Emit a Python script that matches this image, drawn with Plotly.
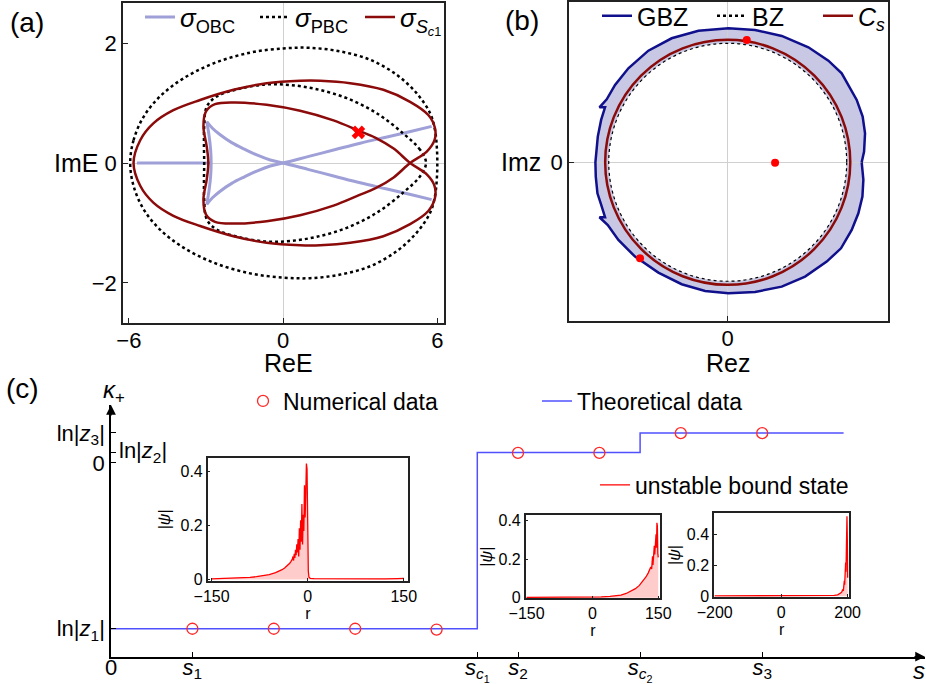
import plotly.graph_objects as go

W, H = 926, 684

# ---------------- Panel (a) data: spectra in complex E plane ----------------
OBC_RE = [-5.69, -2.80, None,
          -2.97, -2.88, -2.82, -2.80, -2.82, -2.88, -2.97, None,
          -2.97, -2.75, -2.45, -2.0, -1.5, -1.0, -0.5, 0.0, 1.0, 2.0, 3.0, 4.0, 5.0, 5.78, None,
          -2.97, -2.75, -2.45, -2.0, -1.5, -1.0, -0.5, 0.0, 1.0, 2.0, 3.0, 4.0, 5.0, 5.78]
OBC_IM = [0, 0, None,
          0.69, 0.45, 0.22, 0.0, -0.22, -0.45, -0.69, None,
          0.69, 0.58, 0.47, 0.34, 0.23, 0.13, 0.05, 0.0, -0.11, -0.22, -0.33, -0.43, -0.53, -0.61, None,
          -0.69, -0.58, -0.47, -0.34, -0.23, -0.13, -0.05, 0.0, 0.11, 0.22, 0.33, 0.43, 0.53, 0.61]

PBC_RE = [-5.95, -5.82, -5.43, -4.79, -3.88, -2.71, -1.28, 0.01, 1.05, 2.22, 3.39, 4.42, 5.20, 5.72, 5.91, 5.98, 6.00,
          5.98, 5.91, 5.72, 5.20, 4.42, 3.39, 2.22, 1.05, 0.01, -1.28, -2.71, -3.88, -4.79, -5.43, -5.82, -5.95, None,
          5.56, 5.33, 4.68, 3.64, 2.48, 1.31, 0.27, -0.64, -1.67, -2.58, -2.97, -3.07, -3.08, -3.07, -3.08, -3.07,
          -2.97, -2.58, -1.67, -0.64, 0.27, 1.31, 2.48, 3.64, 4.68, 5.33, 5.56]
PBC_IM = [0.0, 0.38, 0.77, 1.11, 1.41, 1.66, 1.84, 1.91, 1.92, 1.86, 1.72, 1.47, 1.16, 0.83, 0.55, 0.27, 0.0,
          -0.27, -0.55, -0.83, -1.16, -1.47, -1.72, -1.86, -1.92, -1.91, -1.84, -1.66, -1.41, -1.11, -0.77, -0.38, 0.0, None,
          0.0, 0.22, 0.49, 0.83, 1.08, 1.23, 1.30, 1.31, 1.24, 1.11, 0.94, 0.61, 0.30, 0.0, -0.30, -0.61,
          -0.94, -1.11, -1.24, -1.31, -1.30, -1.23, -1.08, -0.83, -0.49, -0.22, 0.0]

SC1_RE = [-5.82, -5.56, -5.05, -4.27, -3.23, -1.93, -0.64, 0.66, 1.44, 2.61, 3.90, 4.94, 5.65, 5.91, 5.89, 5.59, 4.94,
          4.30, 3.60, 2.93, 1.96, 0.66, -0.64, -1.93, -2.65, -3.00, -3.10, -2.97, -2.91, -2.97, -3.10, -3.00, -2.65,
          -1.93, -0.64, 0.66, 1.96, 2.93, 3.60, 4.30, 4.94,
          5.59, 5.89, 5.91, 5.65, 4.94, 3.90, 2.61, 1.44, 0.66, -0.64, -1.93, -3.23, -4.27, -5.05, -5.56, -5.82]
SC1_IM = [0.0, 0.38, 0.66, 0.88, 1.05, 1.22, 1.33, 1.37, 1.37, 1.33, 1.22, 1.02, 0.80, 0.58, 0.38, 0.19, 0.0,
          -0.24, -0.42, -0.54, -0.71, -0.87, -0.97, -1.01, -0.98, -0.86, -0.61, -0.27, 0.0, 0.27, 0.61, 0.86, 0.98,
          1.01, 0.97, 0.87, 0.71, 0.54, 0.42, 0.24, 0.0,
          -0.19, -0.38, -0.58, -0.80, -1.02, -1.22, -1.33, -1.37, -1.37, -1.33, -1.22, -1.05, -0.88, -0.66, -0.38, 0.0]

CROSS_RE = [2.93]
CROSS_IM = [0.51]

# ---------------- Panel (b) data: GBZ, BZ and C_s in complex z plane ----------------
GBZ_RE = [1.126, 1.146, 1.154, 1.134, 1.084, 1.014, 0.958, 0.846, 0.678, 0.454, 0.230, 0.006, -0.246, -0.471,
          -0.667, -0.835, -0.947, -1.017, -1.078, -1.031, -1.064, -1.092, -1.109, -1.112, -1.109, -1.095, -1.064,
          -1.031, -1.078, -1.008, -0.919, -0.779, -0.583, -0.387, -0.190, 0.006, 0.230, 0.454, 0.650, 0.832,
          0.952, 1.042, 1.098, 1.132, 1.140, 1.126]
GBZ_IM = [0.0, 0.090, 0.244, 0.384, 0.524, 0.650, 0.748, 0.854, 0.966, 1.062, 1.112, 1.126, 1.106, 1.042,
          0.938, 0.790, 0.650, 0.529, 0.462, 0.462, 0.356, 0.216, 0.076, 0.0, -0.120, -0.261, -0.356,
          -0.462, -0.462, -0.527, -0.653, -0.793, -0.927, -1.025, -1.081, -1.101, -1.090, -1.045, -0.961, -0.835,
          -0.723, -0.569, -0.429, -0.289, -0.148, 0.0]
BZ_RADIUS = 1.0
CS_RADIUS = 1.03
ROOTS_RE = [0.160, 0.398, -0.737]
ROOTS_IM = [1.028, -0.003, -0.807]

# ---------------- Panel (c) data ----------------
LN_Z1, LN_Z2, LN_Z3 = -0.83, 0.052, 0.15
S_TICKS = [0, 1, 4.5, 5, 6.5, 8]
S_TICKTEXT = ["0", "<i>s</i><sub>1</sub>", "<i>s</i><sub><i>c</i><sub>1</sub></sub>",
              "<i>s</i><sub>2</sub>", "<i>s</i><sub><i>c</i><sub>2</sub></sub>", "<i>s</i><sub>3</sub>"]
THEO_S = [0, 4.5, 6.5, 9.0]
THEO_K = [LN_Z1, LN_Z2, LN_Z3, LN_Z3]
NUM_S = [1, 2, 3, 4, 5, 6, 7, 8]
NUM_K = [-0.83, -0.83, -0.83, -0.834, 0.05, 0.05, 0.149, 0.149]

INS1_R = [-150, -140, -130, -120, -110, -100, -90, -80, -70, -60, -50, -45, -40, -36, -32, -28, -26, -24,
          -23, -22, -21, -20, -19, -18, -17, -16, -15, -14, -13, -12, -11, -10, -9, -8, -7, -6, -5, -4, -3, -2, -1,
          0, 1, 2, 4, 10, 40, 80, 120, 140, 146, 148, 150]
INS1_PSI = [0.002, 0.0025, 0.003, 0.0037, 0.0046, 0.006, 0.0077, 0.010, 0.013, 0.018, 0.025, 0.030, 0.036, 0.042,
            0.050, 0.060, 0.067, 0.075,
            0.085, 0.070, 0.095, 0.080, 0.110, 0.090, 0.130, 0.100, 0.150, 0.085, 0.190, 0.110, 0.220, 0.140, 0.280,
            0.130, 0.240, 0.180, 0.350, 0.230, 0.320, 0.430, 0.410,
            0.150, 0.030, 0.008, 0.004, 0.003, 0.002, 0.002, 0.002, 0.003, 0.005, 0.006, 0.004]
INS2_R = [-150, -100, -50, 0, 20, 40, 55, 65, 77, 88, 98, 107, 115, 122, 127, 131, 133, 135,
          136, 137, 138, 139, 140, 141, 142, 143, 144, 145, 146, 147, 148, 149, 150]
INS2_PSI = [0.002, 0.002, 0.002, 0.003, 0.004, 0.007, 0.010, 0.014, 0.022, 0.033, 0.047, 0.064, 0.085, 0.108,
            0.128, 0.145, 0.160, 0.150,
            0.185, 0.215, 0.170, 0.235, 0.200, 0.270, 0.225, 0.300, 0.250, 0.330, 0.260, 0.390, 0.370, 0.230, 0.210]
INS3_R = [-200, -100, 0, 100, 140, 160, 170, 176, 180, 183, 185, 187, 188, 189, 190, 191, 192, 193, 194, 195,
          196, 197, 198, 199, 200]
INS3_PSI = [0.002, 0.002, 0.002, 0.002, 0.003, 0.005, 0.009, 0.015, 0.022, 0.030, 0.045, 0.035, 0.070, 0.050,
            0.100, 0.075, 0.150, 0.110, 0.220, 0.160, 0.300, 0.200, 0.520, 0.380, 0.120]

# ---------------- colours ----------------
C_OBC = "rgb(160,160,216)"
C_DRED = "rgb(139,10,10)"
C_NAVY = "rgb(16,16,140)"
C_FILL = "rgb(200,200,228)"
C_BLUE = "rgb(80,80,255)"
C_RED = "rgb(255,40,40)"
FONT = "Liberation Sans, Arial, Helvetica, sans-serif"


def fx(p):
    return p / W


def fy(p):
    return 1 - p / H


fig = go.Figure()

# ---- panel (a)
fig.add_trace(go.Scatter(x=OBC_RE, y=OBC_IM, mode="lines", line=dict(color=C_OBC, width=3, shape="spline"),
                         name="<i>σ</i><sub>OBC</sub>", xaxis="x", yaxis="y", legend="legend"))
fig.add_trace(go.Scatter(x=PBC_RE, y=PBC_IM, mode="lines", line=dict(color="black", width=2.5, dash="dot", shape="spline"),
                         name="<i>σ</i><sub>PBC</sub>", xaxis="x", yaxis="y", legend="legend6"))
fig.add_trace(go.Scatter(x=SC1_RE, y=SC1_IM, mode="lines", line=dict(color=C_DRED, width=2.5, shape="spline"),
                         name="<i>σ</i><sub><i>S</i><sub><i>c</i>1</sub></sub>", xaxis="x", yaxis="y", legend="legend7"))
fig.add_trace(go.Scatter(x=CROSS_RE, y=CROSS_IM, mode="markers",
                         marker=dict(symbol="x", size=12, color="red", line=dict(width=0)),
                         showlegend=False, xaxis="x", yaxis="y"))

# ---- panel (b)
fig.add_trace(go.Scatter(x=GBZ_RE, y=GBZ_IM, mode="lines", line=dict(color=C_NAVY, width=2.5),
                         name="GBZ", xaxis="x2", yaxis="y2", legend="legend2"))
fig.add_trace(go.Scatter(x=[None], y=[None], mode="lines", line=dict(color="black", width=2.5, dash="dot"),
                         name="BZ", xaxis="x2", yaxis="y2", legend="legend8"))
fig.add_trace(go.Scatter(x=[None], y=[None], mode="lines", line=dict(color=C_DRED, width=2.5),
                         name="<i>C</i><sub><i>s</i></sub>", xaxis="x2", yaxis="y2", legend="legend9"))
fig.add_trace(go.Scatter(x=ROOTS_RE, y=ROOTS_IM, mode="markers", marker=dict(color="red", size=8),
                         showlegend=False, xaxis="x2", yaxis="y2"))

# ---- panel (c) main
fig.add_trace(go.Scatter(x=THEO_S, y=THEO_K, mode="lines", line=dict(color=C_BLUE, width=1.5, shape="hv"),
                         name="Theoretical data", xaxis="x3", yaxis="y3", legend="legend4"))
fig.add_trace(go.Scatter(x=NUM_S, y=NUM_K, mode="markers",
                         marker=dict(symbol="circle-open", size=11, color=C_RED, line=dict(width=1.3)),
                         name="Numerical data", xaxis="x3", yaxis="y3", legend="legend3"))

# ---- insets
for xa, ya, R, P, leg in [("x4", "y4", INS1_R, INS1_PSI, True),
                          ("x5", "y5", INS2_R, INS2_PSI, False),
                          ("x6", "y6", INS3_R, INS3_PSI, False)]:
    fig.add_trace(go.Scatter(x=R, y=P, mode="lines", fill="tozeroy", fillcolor="rgba(255,0,0,0.2)",
                             line=dict(width=0, color="rgba(255,0,0,0)"), showlegend=False, hoverinfo="skip",
                             xaxis=xa, yaxis=ya))
    fig.add_trace(go.Scatter(x=R, y=P, mode="lines", line=dict(color="red", width=1.3),
                             name="unstable bound state", showlegend=leg, legend="legend5",
                             xaxis=xa, yaxis=ya))

# ---------------- shapes (panel b) ----------------
gbz_path = "M " + " L ".join(f"{x},{y}" for x, y in zip(GBZ_RE, GBZ_IM)) + " Z"
shapes = [
    dict(type="path", path=gbz_path, xref="x2", yref="y2", fillcolor=C_FILL, line=dict(width=0), layer="below"),
    dict(type="circle", xref="x2", yref="y2", x0=-BZ_RADIUS, x1=BZ_RADIUS, y0=-BZ_RADIUS, y1=BZ_RADIUS,
         fillcolor="white", line=dict(width=0), layer="below"),
    dict(type="circle", xref="x2", yref="y2", x0=-BZ_RADIUS, x1=BZ_RADIUS, y0=-BZ_RADIUS, y1=BZ_RADIUS,
         line=dict(color="black", width=1.2, dash="dot"), layer="between"),
    dict(type="circle", xref="x2", yref="y2", x0=-CS_RADIUS, x1=CS_RADIUS, y0=-CS_RADIUS, y1=CS_RADIUS,
         line=dict(color=C_DRED, width=2.5), layer="between"),
]

# ---------------- axes ----------------
frame = dict(showline=True, mirror=True, linecolor="#222", linewidth=1.5, ticks="inside", ticklen=5,
             tickcolor="#222", showgrid=False, automargin=False)
tickfont_big = dict(size=22, family=FONT, color="black")
tickfont_ins = dict(size=16, family=FONT, color="black")


def leg(xp, yp, size):
    return dict(x=fx(xp), y=fy(yp), xanchor="left", yanchor="middle", orientation="h",
                font=dict(size=size, family=FONT, color="black"), bgcolor="rgba(0,0,0,0)")


layout = dict(
    width=W, height=H, margin=dict(l=0, r=0, t=0, b=0, pad=0, autoexpand=False),
    paper_bgcolor="white", plot_bgcolor="white",
    font=dict(family=FONT, color="black"),
    shapes=shapes,
    xaxis=dict(domain=[fx(123), fx(444)], anchor="y", range=[-6.23, 6.26], tickvals=[-6, 0, 6],
               zeroline=True, zerolinecolor="#d0d0d0", zerolinewidth=1, tickfont=tickfont_big,
               ticklabelstandoff=-3, **frame),
    yaxis=dict(domain=[fy(323), fy(3)], anchor="x", range=[-2.667, 2.667], tickvals=[-2, 0, 2],
               zeroline=True, zerolinecolor="#d0d0d0", zerolinewidth=1, tickfont=tickfont_big, **frame),
    xaxis2=dict(domain=[fx(569), fx(888)], anchor="y2", range=[-1.334, 1.347], tickvals=[0],
                zeroline=True, zerolinecolor="#d0d0d0", zerolinewidth=1, tickfont=tickfont_big,
                ticklabelstandoff=-3, **frame),
    yaxis2=dict(domain=[fy(321), fy(2)], anchor="x2", range=[-1.334, 1.347], tickvals=[0],
                zeroline=True, zerolinecolor="#d0d0d0", zerolinewidth=1, tickfont=tickfont_big, **frame),
    xaxis3=dict(domain=[fx(111), fx(925)], anchor="y3", range=[0, 10], tickvals=S_TICKS, ticktext=S_TICKTEXT,
                showline=True, linecolor="black", linewidth=1.5, ticks="inside", ticklen=5, tickcolor="black",
                showgrid=False, zeroline=False, automargin=False, ticklabelstandoff=-10,
                tickfont=dict(size=22, family=FONT, color="black")),
    yaxis3=dict(domain=[fy(656.7), fy(405)], anchor="x3", range=[-0.97, 0.29],
                tickvals=[LN_Z1, 0, LN_Z2, LN_Z3],
                ticktext=["ln|<i>z</i><sub>1</sub>|", "0", "", "ln|<i>z</i><sub>3</sub>|"],
                showline=True, linecolor="black", linewidth=1.5, ticks="inside", ticklen=5, tickcolor="black",
                showgrid=False, zeroline=False, automargin=False,
                tickfont=dict(size=22, family=FONT, color="black")),
    xaxis4=dict(domain=[fx(207.7), fx(408.3)], anchor="y4", range=[-156, 157], tickvals=[-150, 0, 150],
                zeroline=False, tickfont=tickfont_ins, title=dict(text="r", font=tickfont_ins, standoff=2),
                **{**frame, "ticklen": 3}),
    yaxis4=dict(domain=[fy(581), fy(457.7)], anchor="x4", range=[-0.006, 0.452], tickvals=[0, 0.2, 0.4],
                zeroline=False, tickfont=tickfont_ins, title=dict(text="|<i>ψ</i>|", font=tickfont_ins, standoff=6),
                **{**frame, "ticklen": 3}),
    xaxis5=dict(domain=[fx(525.7), fx(660)], anchor="y5", range=[-152, 154], tickvals=[-150, 0, 150],
                zeroline=False, tickfont=tickfont_ins, title=dict(text="r", font=tickfont_ins, standoff=2),
                **{**frame, "ticklen": 3}),
    yaxis5=dict(domain=[fy(598.3), fy(515)], anchor="x5", range=[-0.003, 0.43], tickvals=[0, 0.2, 0.4],
                zeroline=False, tickfont=tickfont_ins, title=dict(text="|<i>ψ</i>|", font=tickfont_ins, standoff=2),
                **{**frame, "ticklen": 3}),
    xaxis6=dict(domain=[fx(714), fx(849.3)], anchor="y6", range=[-202, 205], tickvals=[-200, 0, 200],
                zeroline=False, tickfont=tickfont_ins, title=dict(text="r", font=tickfont_ins, standoff=2),
                **{**frame, "ticklen": 3}),
    yaxis6=dict(domain=[fy(596.7), fy(513.3)], anchor="x6", range=[-0.003, 0.54], tickvals=[0, 0.2, 0.4],
                zeroline=False, tickfont=tickfont_ins, title=dict(text="|<i>ψ</i>|", font=tickfont_ins, standoff=2),
                **{**frame, "ticklen": 3}),
    # panel (a) legends
    legend=leg(140, 17, 26), legend6=leg(255, 17, 26), legend7=leg(360, 17, 26),
    # panel (b) legends
    legend2=leg(597, 16, 25), legend8=leg(712, 16, 25), legend9=leg(818, 16, 25),
    # panel (c) legends
    legend3=leg(243, 401, 23), legend4=leg(537, 401, 23), legend5=leg(595, 485, 23),
)


def txt(text, xp, yp, size, xanchor="center"):
    return dict(text=text, x=fx(xp), y=fy(yp), xref="paper", yref="paper", showarrow=False,
                xanchor=xanchor, yanchor="middle", font=dict(size=size, family=FONT, color="black"))


annotations = [
    txt("(a)", 27, 23, 28), txt("(b)", 522, 21, 28), txt("(c)", 22, 389, 28),
    txt("ImE", 100, 163, 25, "right"), txt("ReE", 288, 363, 25),
    txt("Imz", 543, 162, 25, "right"), txt("Rez", 728, 363, 25),
    txt("<i>κ</i><sub>+</sub>", 114, 391, 24),
    txt("ln|<i>z</i><sub>2</sub>|", 117, 452, 22, "left"),
    txt("<i>s</i>", 919, 670, 24),
    # axis arrowheads of panel (c)
    dict(x=10, y=-0.97, xref="x3", yref="y3", ax=-12, ay=0, showarrow=True, arrowhead=2, arrowsize=1.3,
         arrowwidth=1.5, arrowcolor="black", text="", standoff=0),
    dict(x=0, y=0.29, xref="x3", yref="y3", ax=0, ay=12, showarrow=True, arrowhead=2, arrowsize=1.3,
         arrowwidth=1.5, arrowcolor="black", text="", standoff=0),
]
layout["annotations"] = annotations

fig.update_layout(**layout)
fig.write_html("out.html")
